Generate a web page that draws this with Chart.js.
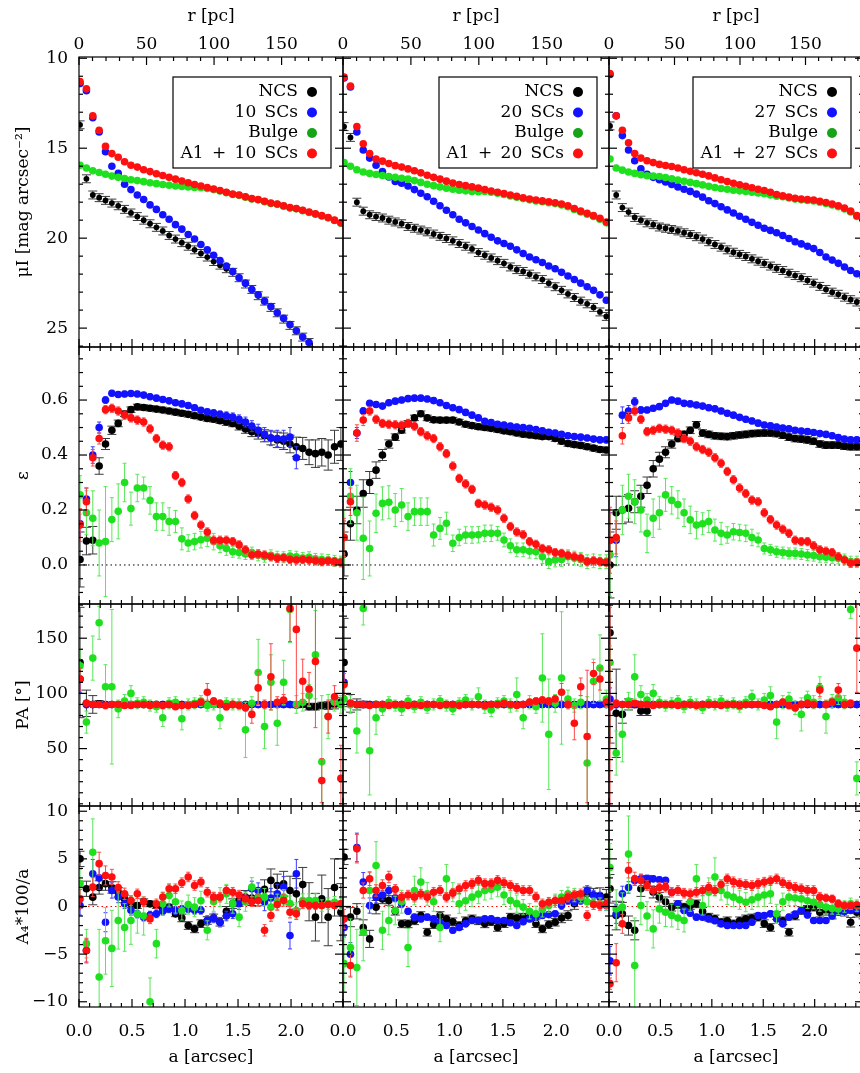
<!DOCTYPE html>
<html>
<head>
<meta charset="utf-8">
<script src="https://cdn.jsdelivr.net/npm/chart.js@4.4.1/dist/chart.umd.min.js"></script>
<style>
  html, body { margin: 0; padding: 0; background: #fff; overflow: hidden; }
  #fig { position: relative; width: 860px; height: 1073px; overflow: hidden; background: #fff; }
  #fig canvas { position: absolute; }
</style>
</head>
<body>
<div id="fig"></div>
<script>
// semi-major axis of the isophotes [arcsec]
const aArcsec = [0.01,0.07,0.13,0.19,0.25,0.31,0.37,0.43,0.49,0.55,0.61,0.67,0.73,0.79,0.85,0.91,0.97,1.03,1.09,1.15,1.21,1.27,1.33,1.39,1.45,1.51,1.57,1.63,1.69,1.75,1.81,1.87,1.93,1.99,2.05,2.11,2.17,2.23,2.29,2.35,2.41,2.47];
const xMaxArcsec = [2.49, 2.495, 2.47];
const pcPerArcsec = 78.5;

const scLabels = ['10 SCs', '20 SCs', '27 SCs'];
const a1Labels = ['A1 + 10 SCs', 'A1 + 20 SCs', 'A1 + 27 SCs'];

// tick labels
const aTicks = [0, 0.5, 1, 1.5, 2, 2.5];
const pcTicks = [0, 50, 100, 150];
const muTicks = [10, 15, 20, 25];
const epsTicks = [0, 0.2, 0.4, 0.6];
const paTicks = [50, 100, 150];
const a4Ticks = [-10, -5, 0, 5, 10];

// ---- surface brightness mu_I ----
const muNcs1 = [13.7,16.7,17.6,17.75,17.9,18.05,18.2,18.4,18.6,18.8,19.0,19.2,19.4,19.6,19.85,20.05,20.25,20.45,20.65,20.85,21.05,21.3,21.5,21.7,21.9,22.2,22.55,22.85,23.2,23.5,23.85,24.15,24.5,24.85,25.15,25.5,25.8,null,null,null,null,null];
const muSc1 = [11.4,11.8,13.3,14.1,15.2,16.0,16.4,17.0,17.3,17.6,17.85,18.15,18.4,18.7,18.95,19.25,19.5,19.8,20.05,20.35,20.65,20.95,21.25,21.55,21.85,22.2,22.5,22.85,23.15,23.5,23.8,24.15,24.45,24.8,25.15,25.5,25.8,null,null,null,null,null];
const muBulge1 = [15.95,16.1,16.25,16.35,16.45,16.55,16.62,16.68,16.75,16.8,16.86,16.92,16.97,17.02,17.06,17.1,17.13,17.16,17.18,17.2,17.24,17.3,17.38,17.47,17.57,17.62,17.72,17.82,17.87,17.97,18.07,18.12,18.22,18.32,18.37,18.47,18.57,18.67,18.77,18.87,19.02,19.17];
const muA1Sc1 = [11.3,11.7,13.2,14.0,14.9,15.3,15.5,15.75,15.95,16.05,16.2,16.3,16.42,16.52,16.62,16.72,16.82,16.92,17.02,17.1,17.18,17.27,17.35,17.45,17.55,17.6,17.7,17.8,17.85,17.95,18.05,18.1,18.2,18.3,18.35,18.45,18.55,18.65,18.75,18.85,19.0,19.15];

const muNcs2 = [13.8,14.4,18.0,18.5,18.7,18.8,18.88,19.0,19.1,19.2,19.35,19.45,19.55,19.65,19.77,19.9,20.02,20.15,20.3,20.45,20.6,20.8,20.95,21.1,21.25,21.4,21.6,21.75,21.85,22.0,22.15,22.3,22.5,22.7,22.9,23.1,23.3,23.5,23.65,23.85,24.1,24.35];
const muSc2 = [11.1,11.6,14.1,15.1,15.55,15.95,16.3,16.6,16.85,16.95,17.1,17.3,17.5,17.7,17.95,18.2,18.45,18.7,18.95,19.15,19.35,19.55,19.75,19.95,20.15,20.3,20.45,20.65,20.85,21.05,21.2,21.35,21.55,21.7,21.9,22.1,22.3,22.5,22.7,22.9,23.15,23.45];
const muBulge2 = [15.8,16.0,16.2,16.32,16.4,16.46,16.52,16.57,16.62,16.67,16.72,16.8,16.9,17.0,17.08,17.15,17.22,17.28,17.33,17.37,17.4,17.42,17.4,17.45,17.5,17.57,17.65,17.73,17.8,17.87,17.93,17.98,18.03,18.08,18.15,18.25,18.4,18.55,18.67,18.8,18.95,19.15];
const muA1Sc2 = [11.05,11.55,13.8,14.75,15.3,15.6,15.72,15.85,15.97,16.05,16.15,16.25,16.37,16.5,16.62,16.72,16.83,16.93,17.02,17.08,17.15,17.22,17.3,17.38,17.45,17.52,17.6,17.68,17.75,17.82,17.88,17.93,17.98,18.03,18.1,18.2,18.35,18.5,18.62,18.75,18.9,19.1];

const muNcs3 = [13.76,17.6,18.3,18.55,18.85,19.0,19.15,19.25,19.38,19.45,19.52,19.6,19.7,19.8,19.92,20.05,20.2,20.35,20.5,20.65,20.78,20.9,21.02,21.15,21.28,21.4,21.55,21.68,21.8,21.95,22.08,22.2,22.35,22.5,22.68,22.85,23.0,23.12,23.28,23.42,23.55,23.68];
const muSc3 = [10.9,13.2,14.3,15.1,15.7,16.15,16.45,16.62,16.75,16.88,17.02,17.15,17.28,17.4,17.55,17.72,17.92,18.08,18.25,18.43,18.6,18.78,18.95,19.12,19.28,19.45,19.57,19.7,19.85,20.02,20.2,20.32,20.45,20.58,20.8,21.05,21.22,21.4,21.6,21.8,21.98,22.15];
const muBulge3 = [15.6,16.1,16.22,16.32,16.4,16.47,16.53,16.55,16.57,16.63,16.7,16.77,16.84,16.9,16.97,17.04,17.12,17.18,17.24,17.28,17.33,17.37,17.41,17.45,17.49,17.53,17.6,17.67,17.7,17.77,17.83,17.87,17.9,17.93,18.0,18.07,18.15,18.25,18.38,18.55,18.8,19.0];
const muA1Sc3 = [10.85,13.2,14.0,14.7,15.3,15.55,15.7,15.8,15.9,15.96,16.02,16.1,16.2,16.28,16.36,16.45,16.54,16.65,16.75,16.85,16.95,17.03,17.12,17.2,17.28,17.35,17.45,17.58,17.65,17.72,17.78,17.82,17.85,17.88,17.95,18.02,18.1,18.2,18.33,18.5,18.75,18.95];
const muNcsErr = [0.22];

// ---- ellipticity ----
const epsNcs1 = [0.02,0.087,0.09,0.36,0.44,0.49,0.515,0.55,0.565,0.575,0.573,0.57,0.567,0.564,0.56,0.556,0.552,0.548,0.543,0.538,0.533,0.53,0.525,0.52,0.515,0.505,0.495,0.485,0.478,0.47,0.462,0.455,0.45,0.44,0.43,0.424,0.41,0.405,0.41,0.40,0.43,0.44];
const epsNcsErr1 = [0.1,0.05,0.05,0.03,0.02,0.015,0.012,0.01,0.01,0.01,0.01,0.01,0.01,0.01,0.01,0.01,0.01,0.01,0.01,0.01,0.01,0.01,0.01,0.012,0.012,0.014,0.016,0.018,0.02,0.022,0.025,0.028,0.03,0.032,0.035,0.04,0.045,0.05,0.05,0.055,0.06,0.06];
const epsSc1 = [0.15,0.24,0.4,0.5,0.6,0.625,0.62,0.622,0.624,0.622,0.618,0.612,0.607,0.602,0.597,0.59,0.586,0.58,0.572,0.563,0.557,0.553,0.548,0.543,0.538,0.53,0.52,0.505,0.49,0.475,0.462,0.46,0.458,0.465,0.39,null,null,null,null,null,null,null];
const epsScErr1 = [0.05,0.04,0.03,0.02,0.012,0.01,0.01,0.01,0.01,0.01,0.01,0.01,0.01,0.01,0.01,0.01,0.01,0.01,0.01,0.01,0.01,0.012,0.012,0.014,0.015,0.016,0.018,0.02,0.022,0.025,0.028,0.03,0.032,0.035,0.04];
const epsBulge1 = [0.255,0.19,0.17,0.08,0.085,0.165,0.195,0.3,0.205,0.28,0.28,0.235,0.176,0.176,0.158,0.158,0.095,0.08,0.085,0.092,0.097,0.085,0.07,0.06,0.048,0.045,0.04,0.045,0.035,0.03,0.035,0.03,0.028,0.032,0.03,0.025,0.028,0.022,0.02,0.018,0.015,0.012];
const epsBulgeErr1 = [0.07,0.08,0.1,0.12,0.2,0.08,0.1,0.07,0.06,0.05,0.04,0.05,0.05,0.05,0.05,0.04,0.04,0.03,0.03,0.03,0.03,0.03,0.025,0.025,0.02];
const epsA1Sc1 = [0.145,0.23,0.39,0.46,0.565,0.57,0.56,0.545,0.535,0.527,0.52,0.495,0.46,0.436,0.43,0.325,0.30,0.24,0.18,0.145,0.12,0.09,0.09,0.09,0.085,0.073,0.055,0.036,0.04,0.036,0.03,0.024,0.026,0.02,0.018,0.02,0.018,0.015,0.012,0.014,0.012,0.01];
const epsA1ScErr1 = [0.06,0.05,0.03,0.02,0.015];

const epsNcs2 = [0.04,0.15,0.2,0.26,0.3,0.345,0.4,0.44,0.465,0.49,0.515,0.535,0.55,0.535,0.528,0.527,0.527,0.527,0.52,0.512,0.507,0.503,0.5,0.497,0.493,0.488,0.485,0.48,0.476,0.473,0.47,0.467,0.467,0.46,0.45,0.442,0.438,0.435,0.43,0.425,0.42,0.418];
const epsNcsErr2 = [0.08,0.06,0.05,0.05,0.04,0.03,0.02,0.015,0.012,0.01];
const epsSc2 = [0.1,0.3,0.48,0.56,0.588,0.584,0.578,0.59,0.596,0.6,0.605,0.607,0.607,0.604,0.598,0.59,0.58,0.572,0.565,0.555,0.545,0.535,0.523,0.518,0.512,0.509,0.505,0.502,0.5,0.497,0.493,0.488,0.483,0.48,0.475,0.47,0.467,0.465,0.462,0.458,0.455,0.455];
const epsScErr2 = [0.06,0.04,0.02,0.012,0.01];
const epsBulge2 = [0.1,0.25,0.19,0.097,0.06,0.188,0.224,0.228,0.2,0.218,0.176,0.194,0.194,0.194,0.109,0.133,0.152,0.079,0.1,0.109,0.109,0.11,0.115,0.115,0.115,0.091,0.07,0.055,0.055,0.05,0.048,0.03,0.012,0.018,0.02,0.03,0.025,0.02,0.012,0.015,0.012,0.012];
const epsBulgeErr2 = [0.1,0.1,0.1,0.15,0.1,0.07,0.06,0.06,0.06,0.06,0.05,0.05,0.05,0.05,0.04,0.04,0.04,0.03,0.03,0.03,0.03,0.03,0.03,0.03,0.025];
const epsA1Sc2 = [0.1,0.23,0.48,0.527,0.56,0.53,0.515,0.512,0.51,0.508,0.515,0.505,0.485,0.47,0.46,0.43,0.405,0.36,0.315,0.295,0.275,0.224,0.218,0.21,0.2,0.17,0.14,0.12,0.11,0.085,0.075,0.06,0.055,0.045,0.042,0.035,0.03,0.025,0.012,0.015,0.012,0.01];
const epsA1ScErr2 = [0.07,0.05,0.03,0.02,0.015];

const epsNcs3 = [0.0,0.19,0.2,0.206,0.23,0.25,0.29,0.35,0.385,0.41,0.44,0.46,0.475,0.49,0.51,0.48,0.475,0.47,0.468,0.467,0.47,0.473,0.475,0.478,0.479,0.48,0.48,0.478,0.472,0.465,0.46,0.458,0.455,0.45,0.44,0.436,0.436,0.436,0.432,0.43,0.43,0.43];
const epsNcsErr3 = [0.12,0.06,0.05,0.05,0.04,0.04,0.03,0.03,0.025,0.02,0.015,0.012];
const epsSc3 = [0.09,0.09,0.545,0.56,0.594,0.564,0.564,0.57,0.576,0.588,0.6,0.596,0.588,0.586,0.582,0.578,0.572,0.568,0.56,0.552,0.545,0.537,0.53,0.524,0.516,0.509,0.506,0.502,0.498,0.495,0.49,0.487,0.485,0.482,0.478,0.475,0.47,0.464,0.458,0.455,0.455,0.455];
const epsScErr3 = [0.1,0.06,0.03,0.02,0.015,0.012,0.01];
const epsBulge3 = [0.036,0.097,0.2,0.25,0.23,0.2,0.115,0.17,0.19,0.255,0.235,0.22,0.19,0.164,0.145,0.15,0.158,0.127,0.115,0.109,0.121,0.118,0.115,0.1,0.091,0.06,0.055,0.048,0.045,0.042,0.042,0.04,0.036,0.034,0.03,0.028,0.026,0.024,0.02,0.012,0.012,0.012];
const epsBulgeErr3 = [0.15,0.1,0.09,0.08,0.08,0.08,0.07,0.07,0.06,0.06,0.05,0.05,0.05,0.05,0.05,0.04,0.04,0.04,0.04,0.03,0.03,0.03,0.03,0.03,0.025,0.02];
const epsA1Sc3 = [0.09,0.1,0.47,0.535,0.56,0.53,0.485,0.49,0.497,0.494,0.49,0.48,0.46,0.45,0.43,0.42,0.41,0.39,0.37,0.34,0.31,0.28,0.26,0.236,0.23,0.19,0.165,0.145,0.13,0.115,0.09,0.085,0.085,0.07,0.055,0.05,0.045,0.03,0.018,0.006,0.008,0.006];
const epsA1ScErr3 = [0.12,0.06,0.03,0.02,0.015];

// ---- position angle ----
const paNcs1 = [128,91,90,90.5,90,90,90,89.5,90,90,90,90,90,90,90,89.5,90,90,90,90,90,90,90,90,90,89.5,90,90,90,90,90,90,90,90,89.5,90,88,88,89,89,90,92];
const paNcsErr1 = [50,12,8,3,2,1.5,1.2,1.2,1.2,1.2,1.2,1.2,1.2,1.2,1.2,1.2,1.2,1.2,1.2,1.2,1.2,1.2,1.2,1.2,1.2,1.2,1.2,1.5,1.5,1.5,1.5,2,2,2,2.5,2.5,3,3,3,3.5,4,4];
const paSc1 = [113,90,90,90,90,90,90,90,90,90,90,90,90,90,90,90,90,90,90,90,90,90,90,90,90,90,90,90,90,90,90,90,90,90,90,null,null,null,null,null,null,null];
const paScErr1 = [12,3,2,1.5];
const paBulge1 = [125,74,132,164,106,106,86,93,100,91,92,89,88,78,91,92,77,90,91,93,89,90,78,91,90,90,67,91,119,70,110,73,110,176,90,92,98,135,38,79,92,90];
const paBulgeErr1 = [15,10,20,15,20,70,8,6,7,5,5,5,5,8,5,5,10,5,5,5,5,5,10,5,5,5,25,6,30,20,25,20,20,30,8,8,10,40,60,20,8,8];
const paA1Sc1 = [113,91,90,90,89,90,90,89,89,90,90,89,90,89,90,88,89,89,90,92,101,93,91,88,90,89,87,81,105,90,115,92,94,177,158,111,104,129,21,79,97,23];
const paA1ScErr1 = [10,2,2,2,2,2,2,2,2,2,2,2,2,2,2,2,2,2,2,3,8,3,3,3,3,3,3,8,15,4,30,5,5,30,70,20,15,60,20,15,10,30];

const paNcs2 = [128,91,90,90,90,90,90,90,90,90,90,90,90,90,90,90,90,90,90,90,90,90,90,90,90,90,90,90,90,90,90,90,90,90,90,90,90,90,90,90,90,90];
const paNcsErr2 = [40,8,5,3,2,1.5];
const paSc2 = [110,90,90,90,90,90,90,90,90,90,90,90,90,90,90,90,90,90,90,90,90,90,90,90,90,90,90,90,90,90,90,90,90,90,90,90,90,90,90,90,90,90];
const paScErr2 = [10,3,2,1.5];
const paBulge2 = [95,90,66,177,48,78,86,92,89,86,93,88,92,87,90,93,89,86,91,94,90,97,88,85,91,93,89,99,78,92,88,114,63,91,114,95,89,92,37,111,123,95];
const paBulgeErr2 = [10,8,20,15,40,15,6,5,5,6,5,5,5,5,5,5,5,5,5,5,5,8,6,6,5,5,6,15,10,6,6,40,50,8,60,8,6,6,60,20,30,8];
const paA1Sc2 = [108,91,90,90,89,90,90,89,90,90,89,90,89,90,90,89,90,90,89,90,90,90,89,90,90,91,90,89,90,92,93,94,93,95,101,90,73,106,61,118,113,92];
const paA1ScErr2 = [10,2,2,2,2,2,2,2,2,2,2,2,2,2,2,2,2,2,2,2,2,2,2,2,2,2,2,2,2,3,3,3,3,3,8,4,15,8,60,10,10,4];

const paNcs3 = [155,82,81,90,90,84,84,90,90,90,90,90,90,90,90,90,90,90,90,90,90,90,90,90,90,90,90,90,90,90,90,90,90,90,90,90,90,90,90,90,90,90];
const paNcsErr3 = [100,40,8,5,3,4,4,1.5];
const paSc3 = [95,90,90,90,90,90,90,90,90,90,90,90,90,90,90,90,90,90,90,90,90,90,90,90,90,90,90,90,90,90,90,90,90,90,90,90,90,90,90,90,90,90];
const paScErr3 = [10,3,2,1.5];
const paBulge3 = [128,46,63,93,115,99,94,100,92,89,91,93,88,92,90,87,92,90,93,89,91,88,92,97,90,94,98,74,92,95,87,81,96,92,105,79,93,96,92,176,23,91];
const paBulgeErr3 = [15,20,25,8,20,8,6,8,5,5,5,5,5,5,5,5,5,5,5,5,5,5,5,6,5,6,8,15,6,6,6,15,6,6,10,15,6,6,6,8,15,6];
const paA1Sc3 = [88,91,90,90,91,90,90,89,90,90,90,89,90,90,89,90,90,90,89,90,90,89,90,90,90,89,88,90,92,89,87,90,91,90,103,90,92,103,90,91,141,92];
const paA1ScErr3 = [90,3,2,2,2,2,2,2,2,2,2,2,2,2,2,2,2,2,2,2,2,2,2,2,2,2,2,2,3,3,3,3,3,3,6,3,3,6,3,3,40,3];

// ---- A4*100/a ----
const a4Ncs1 = [5.0,1.86,0.98,2.0,2.4,2.0,1.5,0.8,0.28,0.1,0.5,0.28,0.1,-0.3,-0.07,-0.77,-1.2,-2.0,-2.35,-1.8,-1.47,-1.2,-1.65,-0.5,0.3,0.63,0.98,0.9,0.98,1.8,2.74,2.2,2.39,1.68,1.33,2.3,0.5,-1.12,0.8,-1.12,2.0,-0.6];
const a4NcsErr1 = [0.8,0.8,0.8,0.7,0.7,0.6,0.5,0.4,0.4,0.3,0.3,0.3,0.3,0.3,0.3,0.3,0.4,0.4,0.4,0.4,0.4,0.4,0.4,0.5,0.5,0.6,0.7,0.8,0.9,1.0,1.2,1.2,1.3,1.5,1.6,1.8,2.0,2.5,2.5,3.0,3.0,3.0];
const a4Sc1 = [0.1,-4.63,3.44,3.0,-1.65,1.68,1.0,0.28,-0.4,-0.8,-1.12,-0.9,-0.77,-0.5,-0.25,-0.42,-0.3,-0.25,-0.4,-0.4,-1.47,-1.2,-1.65,-1.0,-0.77,0.28,0.9,1.86,1.68,0.46,0.9,1.33,2.04,-3.05,3.44,null,null,null,null,null,null,null];
const a4ScErr1 = [1.0,1.2,1.5,1.2,1.0,0.8,0.6,0.5,0.5,0.4,0.4,0.4,0.4,0.4,0.4,0.4,0.4,0.4,0.4,0.4,0.5,0.5,0.5,0.5,0.5,0.6,0.7,0.8,0.8,0.9,1.0,1.0,1.1,1.4,1.5];
const a4Bulge1 = [2.4,-3.9,5.7,-7.4,-3.6,-4.4,-1.47,-2.2,-1.47,-0.8,-1.0,-10.0,-3.9,0.28,1.16,0.5,-0.42,0.2,-0.07,0.6,-2.5,0.5,0.98,1.33,0.3,-1.12,0.5,2.03,0.98,0.98,-0.07,0.5,0.98,0.3,-0.42,0.63,0.63,0.63,0.1,0.3,0.45,0.28];
const a4BulgeErr1 = [1.5,1.5,3.5,5,3.5,4,3,2.5,2.5,2,2,2.5,1.5,1.2,1.2,1.2,1,1,1,1,1,1,1,1,1,1,1,1,0.9,0.9,0.9,0.8,0.8,0.8,0.8,0.7,0.7,0.7,0.6];
const a4A1Sc1 = [0.8,-4.63,2.03,4.5,3.26,3.1,2.0,1.33,0.63,1.33,0.5,-1.3,0.28,1.0,1.86,1.86,2.5,3.1,2.2,2.56,1.5,0.98,0.98,1.68,1.5,1.2,0.8,0.5,0.63,-2.5,-0.95,0.2,0.63,-0.6,-0.77,0.28,0.1,0.1,0.1,0.2,0.1,0.28];
const a4A1ScErr1 = [1.0,1.3,1.0,1.2,1.0,0.8,0.6,0.6,0.5,0.5,0.5,0.5,0.5,0.5,0.5,0.5,0.5,0.5,0.5,0.5,0.5,0.5,0.5,0.5,0.5,0.5,0.5,0.5,0.6,0.6,0.6,0.6,0.6,0.6,0.6,0.5,0.4,0.4,0.3];

const a4Ncs2 = [5.2,-1.12,-0.5,-2.2,-3.4,-0.07,0.8,0.63,-0.5,-1.82,-1.82,-1.5,-0.95,-2.7,-1.9,-0.95,-1.3,-1.6,-2.0,-1.5,-1.3,-1.5,-1.82,-1.6,-2.2,-1.8,-1.12,-1.2,-1.12,-1.12,-1.8,-2.35,-1.9,-1.65,-1.2,-0.95,0.3,0.98,1.33,1.2,1.16,0.98];
const a4NcsErr2 = [0.8,1.0,0.8,0.8,0.9,0.7,0.5,0.5,0.4,0.4,0.4,0.4,0.4,0.4,0.4,0.4,0.4,0.4,0.4,0.4,0.4,0.4,0.4,0.4,0.4,0.4,0.4,0.4,0.4,0.4,0.4,0.4,0.4,0.4,0.5,0.5,0.6,0.6,0.7,0.7,0.8,0.8];
const a4Sc2 = [-2.2,-5.0,6.2,2.56,0.1,0.98,1.2,1.68,0.9,0.28,-0.5,-1.12,-1.3,-1.12,-1.3,-1.65,-2.0,-2.5,-2.2,-1.82,-1.47,-1.47,-1.3,-1.3,-1.47,-1.47,-1.7,-2.0,-1.6,-1.3,-1.1,-0.95,-0.85,-0.77,0.1,0.63,0.5,0.63,1.68,1.2,0.98,0.1];
const a4ScErr2 = [1.0,1.2,1.5,1.0,0.8,0.6,0.5,0.5,0.4,0.4,0.3,0.3,0.3,0.3,0.3,0.3,0.3,0.3,0.3,0.3,0.3,0.3,0.3,0.3,0.3,0.3,0.3,0.3,0.3,0.3,0.3,0.3,0.3,0.3,0.4,0.4,0.4,0.4,0.5,0.5,0.5,0.5];
const a4Bulge2 = [-6.0,-4.3,-6.4,-2.7,1.68,4.3,-2.5,-1.47,-0.42,0.5,-4.3,1.68,2.56,1.33,0.5,-2.2,2.9,1.5,0.28,0.6,0.98,1.3,1.68,1.8,2.03,1.2,0.63,0.3,-0.07,-0.5,-0.77,-0.3,0.1,0.6,0.98,1.33,1.2,0.98,0.5,0.28,0.3,0.2];
const a4BulgeErr2 = [3,3,4,3,2,2.5,2,1.5,1.5,1.2,2,1.5,1.5,1.2,1,1.5,1.5,1,1,1,1,1,1,1,1,1,0.9,0.9,0.8,0.8,0.8,0.8,0.7,0.7,0.7,0.7,0.7,0.6];
const a4A1Sc2 = [-1.3,-6.2,6.07,1.68,2.9,1.68,2.2,3.1,1.8,0.98,1.2,0.98,1.3,0.98,1.5,1.68,0.98,1.4,1.86,2.2,2.4,2.74,2.4,2.4,2.74,2.5,2.2,1.9,1.68,1.68,1.0,0.28,0.45,0.6,0.63,0.98,1.2,1.33,-0.95,0.2,0.1,0.28];
const a4A1ScErr2 = [1.0,1.2,1.5,0.8,0.7,0.6,0.6,0.6,0.5];

const a4Ncs3 = [1.86,-0.95,-0.77,-2.0,-2.5,1.86,2.56,1.5,0.98,0.5,-0.07,0.2,-0.07,0.1,0.28,-0.5,-1.12,-1.3,-1.65,-1.5,-1.82,-1.5,-1.3,-1.2,-1.12,-1.8,-2.2,-0.95,-1.5,-2.7,-1.0,-0.42,-0.3,-0.07,-0.6,-0.4,-0.8,-0.25,-0.5,-1.65,-0.6,-0.8];
const a4NcsErr3 = [1.5,1.5,1.2,1.0,1.0,0.8,0.7,0.6,0.5,0.5,0.4,0.4,0.4,0.4,0.4,0.4,0.4,0.4,0.4,0.4,0.4,0.4,0.4,0.4,0.4,0.4,0.4,0.4,0.4,0.4,0.4,0.4,0.4,0.4,0.5,0.5,0.5,0.5,0.5,0.5,0.5,0.5];
const a4Sc3 = [-5.7,-0.77,1.33,2.0,2.74,2.9,2.9,2.9,2.8,2.74,1.5,0.28,-0.42,-0.7,-1.12,-1.12,-1.3,-1.5,-1.82,-2.0,-2.0,-2.0,-2.0,-1.65,-0.95,-0.95,-0.77,-1.3,-1.82,-1.12,-0.8,-0.42,-0.9,-1.47,-1.47,-1.47,-1.0,-0.6,-0.5,-0.42,-0.3,-0.25];
const a4ScErr3 = [1.5,1.0,0.8,0.6,0.5,0.5,0.4,0.3];
const a4Bulge3 = [4.1,-0.25,-0.07,5.5,-6.2,0.1,-1.0,-2.35,-0.25,-0.6,-0.95,-1.2,-1.47,0.5,2.9,0.1,1.5,3.1,1.68,1.2,0.98,0.7,0.45,0.7,0.98,1.2,1.33,-0.77,0.5,0.98,0.9,0.8,0.6,0.45,0.2,-0.07,-0.2,-0.25,0.0,0.28,0.1,-0.07];
const a4BulgeErr3 = [2.5,2,1.5,4,5,2,1.5,2,1.5,1.5,1.2,1.2,1.2,1,1.5,1,1.5,2,1,1,1,1,1,1,1,1.2,1,1,0.9,0.9,0.8,0.8,0.8,0.7,0.7,0.7,0.6];
const a4A1Sc3 = [-8.1,-5.9,-1.82,3.8,2.9,2.74,2.2,1.68,2.0,2.03,1.5,1.68,1.4,1.33,1.5,1.68,2.0,1.68,2.3,2.9,2.6,2.4,2.3,2.2,2.4,2.56,2.7,2.9,2.5,2.2,2.0,1.86,1.7,1.68,0.98,0.9,0.8,0.3,0.1,0.1,0.15,0.1];
const a4A1ScErr3 = [0.6,2.0,1.0,0.8,0.7,0.6,0.5,0.5,0.5,0.5,0.5,0.5,0.5,0.5,0.5,0.5,0.5,0.5,0.5,0.5,0.5,0.5,0.5,0.5,0.5,0.5,0.5,0.5,0.5,0.5,0.5,0.5,0.5,0.5,0.5,0.4];

// ---- layout of the 4 x 3 panels ----
const colLeft = [79, 343, 609];
const colRight = [343, 609, 863];
const rowTop = [57, 347, 604, 806];
const rowBottom = [347, 604, 806, 1007];

const FONT = { family: 'DejaVu Serif', size: 17 };
Chart.defaults.font.family = FONT.family;
Chart.defaults.font.size = FONT.size;
Chart.defaults.color = '#000';

const minus = v => (v < 0 ? '\u2212' + Math.abs(v) : String(v));

const rowDefs = [
  {
    min: 9.93, max: 26.05, reverse: true, major: muTicks, minor: 1,
    title: 'μI [mag arcsec⁻²]', fmt: v => String(v), zero: null,
    series: [[muNcs1, muSc1, muBulge1, muA1Sc1], [muNcs2, muSc2, muBulge2, muA1Sc2], [muNcs3, muSc3, muBulge3, muA1Sc3]],
    errs: [[muNcsErr, null, null, null], [muNcsErr, null, null, null], [muNcsErr, null, null, null]]
  },
  {
    min: -0.142, max: 0.793, reverse: false, major: epsTicks, minor: 0.05,
    title: 'ε', fmt: v => v.toFixed(1), zero: '#000',
    series: [[epsNcs1, epsSc1, epsBulge1, epsA1Sc1], [epsNcs2, epsSc2, epsBulge2, epsA1Sc2], [epsNcs3, epsSc3, epsBulge3, epsA1Sc3]],
    errs: [[epsNcsErr1, epsScErr1, epsBulgeErr1, epsA1ScErr1], [epsNcsErr2, epsScErr2, epsBulgeErr2, epsA1ScErr2], [epsNcsErr3, epsScErr3, epsBulgeErr3, epsA1ScErr3]]
  },
  {
    min: -2, max: 181, reverse: false, major: paTicks, minor: 10,
    title: 'PA [°]', fmt: v => String(v), zero: null,
    series: [[paNcs1, paSc1, paBulge1, paA1Sc1], [paNcs2, paSc2, paBulge2, paA1Sc2], [paNcs3, paSc3, paBulge3, paA1Sc3]],
    errs: [[paNcsErr1, paScErr1, paBulgeErr1, paA1ScErr1], [paNcsErr2, paScErr2, paBulgeErr2, paA1ScErr2], [paNcsErr3, paScErr3, paBulgeErr3, paA1ScErr3]]
  },
  {
    min: -10.55, max: 10.55, reverse: false, major: a4Ticks, minor: 1,
    title: 'A₄*100/a', fmt: minus, zero: '#ff0000',
    series: [[a4Ncs1, a4Sc1, a4Bulge1, a4A1Sc1], [a4Ncs2, a4Sc2, a4Bulge2, a4A1Sc2], [a4Ncs3, a4Sc3, a4Bulge3, a4A1Sc3]],
    errs: [[a4NcsErr1, a4ScErr1, a4BulgeErr1, a4A1ScErr1], [a4NcsErr2, a4ScErr2, a4BulgeErr2, a4A1ScErr2], [a4NcsErr3, a4ScErr3, a4BulgeErr3, a4A1ScErr3]]
  }
];

// NCS, SCs, Bulge, A1 + SCs
const seriesStyle = [
  { color: '#000000', err: '#3a3a3a', cap: 4.5 },
  { color: '#1212ff', err: '#3a3aff', cap: 2 },
  { color: '#1fe01f', err: '#58e858', cap: 2 },
  { color: '#ff1010', err: '#ff4848', cap: 2 }
];
const legendDots = ['#000000', '#1212ff', '#17a317', '#ff1010'];

function errAt(errs, i) {
  if (!errs) return 0;
  return errs[Math.min(i, errs.length - 1)];
}

function stepValues(min, max, step) {
  const out = [];
  for (let k = Math.ceil(min / step - 1e-9); k * step <= max + 1e-9; k++) out.push(+(k * step).toFixed(6));
  return out;
}

// error bars drawn just before each dataset's points
const errorBars = {
  id: 'errorBars',
  beforeDatasetDraw(chart, args) {
    const ds = chart.data.datasets[args.index];
    if (!ds.errColor) return;
    const { ctx, chartArea: ca } = chart;
    const ys = chart.scales.y;
    ctx.save();
    ctx.beginPath();
    ctx.rect(ca.left, ca.top, ca.right - ca.left, ca.bottom - ca.top);
    ctx.clip();
    ctx.strokeStyle = ds.errColor;
    ctx.lineWidth = 1;
    args.meta.data.forEach((el, i) => {
      const p = ds.data[i];
      if (!p || !p.e) return;
      const y1 = ys.getPixelForValue(p.y - p.e);
      const y2 = ys.getPixelForValue(p.y + p.e);
      ctx.beginPath();
      ctx.moveTo(el.x, y1); ctx.lineTo(el.x, y2);
      ctx.moveTo(el.x - ds.capW, y1); ctx.lineTo(el.x + ds.capW, y1);
      ctx.moveTo(el.x - ds.capW, y2); ctx.lineTo(el.x + ds.capW, y2);
      ctx.stroke();
    });
    ctx.restore();
  }
};

// IDL style box with inward major/minor ticks on all four sides
const frameTicks = {
  id: 'frameTicks',
  afterDatasetsDraw(chart, args, o) {
    const { ctx, chartArea: ca, scales } = chart;
    ctx.save();
    ctx.strokeStyle = '#000';
    ctx.lineWidth = 1.2;
    ctx.strokeRect(ca.left, ca.top, ca.right - ca.left, ca.bottom - ca.top);
    const line = (x1, y1, x2, y2) => { ctx.beginPath(); ctx.moveTo(x1, y1); ctx.lineTo(x2, y2); ctx.stroke(); };
    const xTicks = (scale, major, minorStep, y0, dir) => {
      stepValues(scale.min, scale.max, minorStep).forEach(v => {
        const isMajor = major.some(m => Math.abs(m - v) < 1e-6);
        const px = scale.getPixelForValue(v);
        line(px, y0, px, y0 + dir * (isMajor ? 8 : 4));
      });
    };
    const yTicks = (scale, major, minorStep) => {
      stepValues(scale.min, scale.max, minorStep).forEach(v => {
        const isMajor = major.some(m => Math.abs(m - v) < 1e-6);
        const py = scale.getPixelForValue(v);
        const len = isMajor ? 8 : 4;
        line(ca.left, py, ca.left + len, py);
        line(ca.right, py, ca.right - len, py);
      });
    };
    xTicks(scales.x, aTicks, 0.1, ca.bottom, -1);
    if (scales.xTop) xTicks(scales.xTop, pcTicks, 10, ca.top, 1);
    else xTicks(scales.x, aTicks, 0.1, ca.top, 1);
    yTicks(scales.y, o.major, o.minor);
    ctx.restore();
  }
};

// legend box in the top panels: text followed by a coloured dot
const panelLegend = {
  id: 'panelLegend',
  afterDraw(chart, args, o) {
    if (!o || !o.labels) return;
    const { ctx, chartArea: ca } = chart;
    const right = ca.right - 12, top = ca.top + 20, w = 158, h = 91;
    ctx.save();
    ctx.strokeStyle = '#000';
    ctx.lineWidth = 1.2;
    ctx.strokeRect(right - w, top, w, h);
    ctx.font = FONT.size + 'px "' + FONT.family + '"';
    if ('wordSpacing' in ctx) ctx.wordSpacing = '3px';
    ctx.textAlign = 'right';
    ctx.textBaseline = 'middle';
    o.labels.forEach((t, i) => {
      const y = top + 15 + i * 20.5;
      ctx.fillStyle = '#000';
      ctx.fillText(t, right - 33, y);
      ctx.fillStyle = o.colors[i];
      ctx.beginPath();
      ctx.arc(right - 19, y, 5, 0, Math.PI * 2);
      ctx.fill();
    });
    ctx.restore();
  }
};

function makePanel(row, col) {
  const rd = rowDefs[row];
  const padL = col === 0 ? 79 : 20;
  const padR = 14;
  const padT = row === 0 ? 57 : 14;
  const padB = row === 3 ? 66 : 14;
  const w = colRight[col] - colLeft[col] + padL + padR;
  const h = rowBottom[row] - rowTop[row] + padT + padB;

  const canvas = document.createElement('canvas');
  canvas.width = w;
  canvas.height = h;
  canvas.style.left = (colLeft[col] - padL) + 'px';
  canvas.style.top = (rowTop[row] - padT) + 'px';
  document.getElementById('fig').appendChild(canvas);

  const xMax = xMaxArcsec[col];
  const sets = rd.series[col].map((ys, s) => ({
    type: 'scatter',
    data: aArcsec.map((x, i) => ({ x, y: ys[i], e: errAt(rd.errs[col][s], i) })).filter(p => p.y !== null),
    pointRadius: row === 0 && s === 0 ? 2.9 : 3.8,
    pointBackgroundColor: seriesStyle[s].color,
    pointBorderWidth: 0,
    pointHoverRadius: 0,
    errColor: seriesStyle[s].err,
    capW: seriesStyle[s].cap
  }));
  // drawn last-to-first: A1 on top, NCS at the bottom, zero line below all
  const datasets = sets.slice().reverse();
  if (rd.zero) {
    datasets.push({
      type: 'line',
      data: [{ x: 0, y: 0 }, { x: xMax, y: 0 }],
      borderColor: rd.zero,
      borderWidth: 1,
      borderDash: [1.5, 3],
      pointRadius: 0,
      fill: false
    });
  }

  const scales = {
    x: {
      type: 'linear', position: 'bottom', min: 0, max: xMax,
      display: row === 3,
      afterFit: s => { s.height = row === 3 ? 66 : 0; s.paddingLeft = 0; s.paddingRight = 0; },
      afterBuildTicks: s => { s.ticks = aTicks.filter(v => v <= s.max + 1e-9).map(v => ({ value: v })); },
      grid: { display: false, drawTicks: false },
      border: { display: false },
      ticks: { color: '#000', font: FONT, padding: 14, maxRotation: 0, autoSkip: false, callback: v => v.toFixed(1) },
      title: { display: true, text: 'a [arcsec]', color: '#000', font: FONT, padding: { top: 0, bottom: 5 } }
    },
    y: {
      type: 'linear', position: 'left', min: rd.min, max: rd.max, reverse: rd.reverse,
      afterFit: s => { s.width = padL; s.paddingTop = 0; s.paddingBottom = 0; },
      afterBuildTicks: s => { s.ticks = rd.major.map(v => ({ value: v })); },
      grid: { display: false, drawTicks: false },
      border: { display: false },
      ticks: { display: col === 0, color: '#000', font: FONT, padding: 11, autoSkip: false, callback: rd.fmt },
      title: { display: col === 0, text: rd.title, color: '#000', font: FONT, padding: { top: 13, bottom: 0 } }
    }
  };
  if (row === 0) {
    scales.xTop = {
      type: 'linear', position: 'top', min: 0, max: xMax * pcPerArcsec,
      afterFit: s => { s.height = 57; s.paddingLeft = 0; s.paddingRight = 0; },
      afterBuildTicks: s => { s.ticks = pcTicks.map(v => ({ value: v })); },
      grid: { display: false, drawTicks: false },
      border: { display: false },
      ticks: { color: '#000', font: FONT, padding: 2, maxRotation: 0, autoSkip: false, callback: v => String(v) },
      title: { display: true, text: 'r [pc]', color: '#000', font: FONT, padding: { top: 6, bottom: 0 } }
    };
  }

  new Chart(canvas, {
    type: 'scatter',
    data: { datasets },
    options: {
      responsive: false,
      animation: false,
      devicePixelRatio: 1,
      events: [],
      layout: { padding: { top: row === 0 ? 0 : padT, bottom: row === 3 ? 0 : padB, left: 0, right: padR } },
      plugins: {
        legend: { display: false },
        tooltip: { enabled: false },
        frameTicks: { major: rd.major, minor: rd.minor },
        panelLegend: row === 0
          ? { labels: ['NCS', scLabels[col], 'Bulge', a1Labels[col]], colors: legendDots }
          : false
      },
      scales
    },
    plugins: [errorBars, frameTicks, panelLegend]
  });
}

for (let row = 0; row < 4; row++) {
  for (let col = 0; col < 3; col++) makePanel(row, col);
}
</script>
</body>
</html>
